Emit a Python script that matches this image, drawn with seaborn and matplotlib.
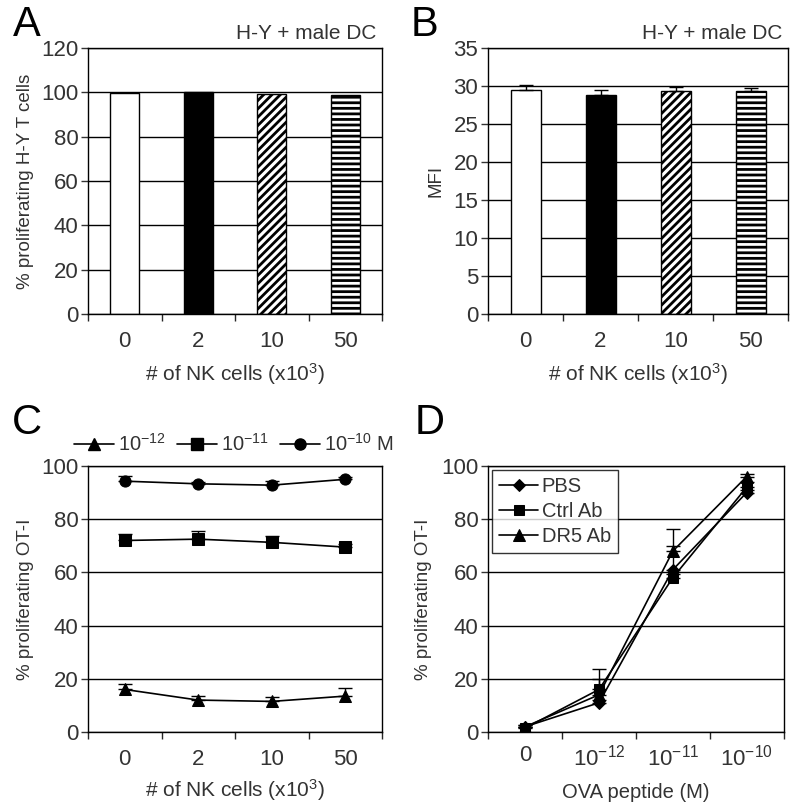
import numpy as np
import seaborn as sns
import matplotlib.pyplot as plt
from matplotlib.lines import Line2D

# panel A / B: bars
nk_labels = ["0", "2", "10", "50"]
pct_hy = [99.5, 100.0, 99.3, 99.0]
mfi = [29.5, 28.8, 29.3, 29.3]
mfi_err = [0.6, 0.7, 0.6, 0.5]

# panel C: OT-I vs NK cells, three peptide doses
c_low = [16.0, 12.0, 11.5, 13.5]
c_low_err = [2.0, 1.5, 1.5, 3.0]
c_mid = [72.0, 72.5, 71.3, 69.5]
c_mid_err = [2.5, 3.0, 2.5, 1.0]
c_high = [94.3, 93.3, 92.8, 95.0]
c_high_err = [2.0, 0.5, 1.5, 0.8]

# panel D: OT-I vs OVA peptide
ova_labels = ["0", "$10^{-12}$", "$10^{-11}$", "$10^{-10}$"]
pbs = [2.0, 11.0, 61.0, 90.0]
pbs_err = [0.5, 1.0, 9.0, 1.0]
ctrl = [1.5, 16.0, 58.0, 92.0]
ctrl_err = [0.5, 7.5, 1.5, 2.0]
dr5 = [2.0, 14.0, 68.0, 96.0]
dr5_err = [0.5, 6.0, 8.5, 1.0]

sns.set_style("white")
plt.rcParams["font.family"] = ["Liberation Sans", "DejaVu Sans"]
plt.rcParams["hatch.linewidth"] = 2.0
plt.rcParams["mathtext.fontset"] = "custom"
plt.rcParams["mathtext.rm"] = "Liberation Sans"
plt.rcParams["mathtext.it"] = "Liberation Sans"

fig = plt.figure(figsize=(8, 8.11), dpi=100)
axA = fig.add_axes([0.110, 0.6128, 0.3675, 0.328])
axB = fig.add_axes([0.610, 0.6128, 0.375, 0.328])
axC = fig.add_axes([0.110, 0.0974, 0.3675, 0.328])
axD = fig.add_axes([0.6104, 0.0974, 0.369, 0.328])

TICK = 16
XLAB = 15
YLAB = 13.5
grey = "#333333"


def frame(ax, ymax, ystep, labels):
    ax.set_xlim(-0.5, 3.5)
    ax.set_ylim(0, ymax)
    ax.set_yticks(np.arange(0, ymax + 0.1, ystep))
    ax.set_xticks(range(4))
    ax.set_xticklabels(labels)
    ax.set_xticks(np.arange(-0.5, 3.6, 1), minor=True)
    ax.tick_params(axis="x", which="major", length=0, pad=12, labelsize=TICK, colors=grey)
    ax.tick_params(axis="x", which="minor", length=5, width=1, direction="out", bottom=True)
    ax.tick_params(axis="y", length=5, width=1, pad=2, direction="out", left=True,
                   labelsize=TICK, colors=grey)
    ax.yaxis.grid(True, color="black", linewidth=1)
    ax.set_axisbelow(True)
    for s in ax.spines.values():
        s.set_color("black")
        s.set_linewidth(1)


def bars(ax, vals):
    sns.barplot(x=list(range(4)), y=vals, ax=ax, width=0.4, native_scale=True,
                color="white", edgecolor="black", linewidth=1, saturation=1)
    fills = ["white", "black", "white", "white"]
    hatches = ["", "", "////", "---"]
    for p, f, h in zip(ax.patches, fills, hatches):
        p.set_facecolor(f)
        p.set_hatch(h)
        p.set_edgecolor("black")


# A
bars(axA, pct_hy)
frame(axA, 120, 20, nk_labels)
axA.set_ylabel("% proliferating H-Y T cells", fontsize=YLAB, color=grey)
axA.set_xlabel("# of NK cells (x10$^3$)", fontsize=XLAB, color=grey, labelpad=7)
axA.yaxis.set_label_coords(-0.185, 0.5)

# B
bars(axB, mfi)
axB.errorbar(range(4), mfi, yerr=[np.zeros(4), mfi_err], fmt="none", ecolor="black",
             capsize=5, elinewidth=1)
frame(axB, 35, 5, nk_labels)
axB.set_ylabel("MFI", fontsize=YLAB, color=grey)
axB.set_xlabel("# of NK cells (x10$^3$)", fontsize=XLAB, color=grey, labelpad=7)
axB.yaxis.set_label_coords(-0.145, 0.5)

for ax in (axA, axB):
    ax.text(0.98, 1.02, "H-Y + male DC", transform=ax.transAxes, ha="right",
            va="bottom", fontsize=15, color=grey)

# C
x = np.arange(4)
for vals, err, mk, ms in [(c_low, c_low_err, "^", 9), (c_mid, c_mid_err, "s", 8),
                          (c_high, c_high_err, "o", 8)]:
    axC.errorbar(x, vals, yerr=[np.zeros(4), err], fmt="none", ecolor="black",
                 capsize=5, elinewidth=1)
    sns.lineplot(x=x, y=vals, ax=axC, color="black", marker=mk, markersize=ms,
                 markeredgecolor="black", linewidth=1.2)
frame(axC, 100, 20, nk_labels)
axC.set_ylabel("% proliferating OT-I", fontsize=YLAB, color=grey)
axC.set_xlabel("# of NK cells (x10$^3$)", fontsize=XLAB, color=grey, labelpad=5)
axC.yaxis.set_label_coords(-0.185, 0.5)

handles = [Line2D([], [], color="black", marker=m, markersize=s, linewidth=1.2)
           for m, s in [("^", 9), ("s", 8), ("o", 8)]]
fig.legend(handles, ["$10^{-12}$", "$10^{-11}$", "$10^{-10}$ M"], loc="center left",
           bbox_to_anchor=(0.092, 0.453), ncol=3, frameon=False, fontsize=14.5,
           handlelength=2.0, columnspacing=0.55, handletextpad=0.2, labelcolor=grey,
           borderpad=0, borderaxespad=0)

# D
for vals, err, mk, ms, lab in [(pbs, pbs_err, "D", 6, "PBS"), (ctrl, ctrl_err, "s", 7.5, "Ctrl Ab"),
                               (dr5, dr5_err, "^", 8.5, "DR5 Ab")]:
    axD.errorbar(x, vals, yerr=[np.zeros(4), err], fmt="none", ecolor="black",
                 capsize=5, elinewidth=1)
    sns.lineplot(x=x, y=vals, ax=axD, color="black", marker=mk, markersize=ms,
                 markeredgecolor="black", linewidth=1.2, label=lab)
frame(axD, 100, 20, ova_labels)
axD.tick_params(axis="x", which="major", pad=9)
axD.set_ylabel("% proliferating OT-I", fontsize=YLAB, color=grey)
axD.set_xlabel("OVA peptide (M)", fontsize=XLAB - 0.5, color=grey, labelpad=9)
axD.yaxis.set_label_coords(-0.19, 0.5)
leg = axD.legend(loc="upper left", fontsize=14.5, frameon=True, fancybox=False,
                 edgecolor="black", handlelength=1.9, handletextpad=0.2,
                 borderpad=0.35, borderaxespad=0.2, labelspacing=0.3, labelcolor=grey)
leg.get_frame().set_linewidth(1)

for letter, px, py in [("A", 27, 25), ("B", 425, 25), ("C", 27, 423), ("D", 430, 423)]:
    fig.text(px / 800, 1 - py / 811, letter, fontsize=30, ha="center", va="center",
             color="black")

fig.savefig("out.png", dpi=100)
